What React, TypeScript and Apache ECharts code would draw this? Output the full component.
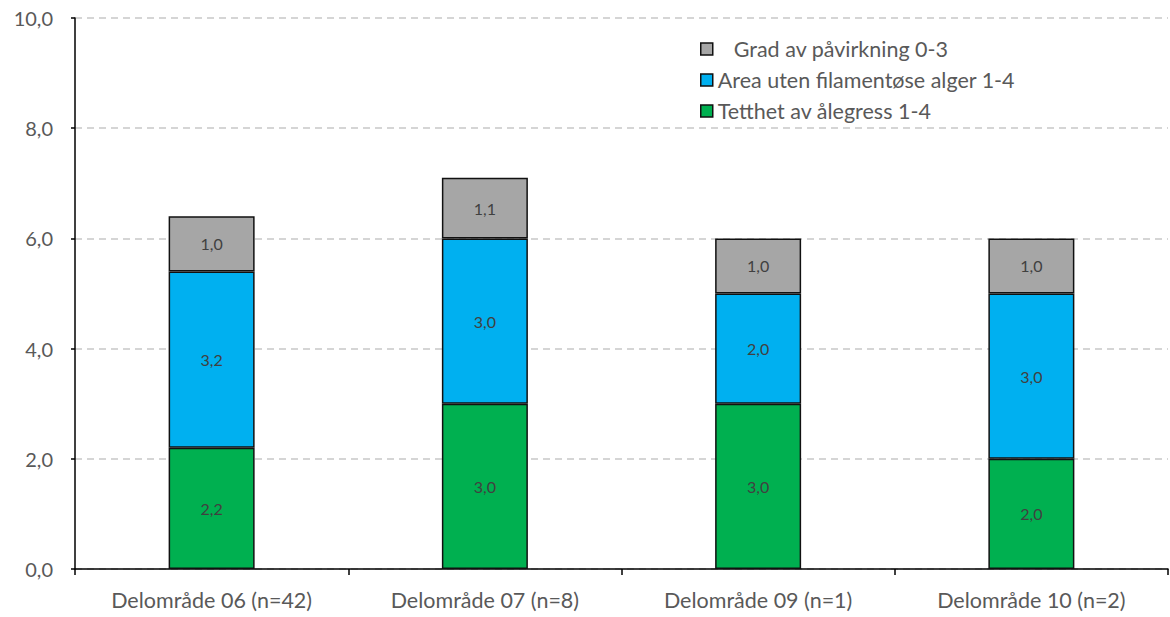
import React, { useEffect, useRef } from "react";
import * as echarts from "echarts";

const categories = [
  "Delområde 06 (n=42)",
  "Delområde 07 (n=8)",
  "Delområde 09 (n=1)",
  "Delområde 10 (n=2)",
];
const tetthet = [2.2, 3.0, 3.0, 2.0];
const area = [3.2, 3.0, 2.0, 3.0];
const grad = [1.0, 1.1, 1.0, 1.0];

const seriesNames = [
  "Tetthet av ålegress 1-4",
  "Area uten filamentøse alger 1-4",
  "Grad av påvirkning 0-3",
];
const seriesColors = ["#00B050", "#00B0F0", "#A6A6A6"];

const FONT = "Lato, 'Open Sans', sans-serif";

const fmt = (v: number) => v.toFixed(1).replace(".", ",");

export default function App() {
  const ref = useRef<HTMLDivElement>(null);

  useEffect(() => {
    if (!ref.current) return;
    const chart = echarts.init(ref.current, undefined, { renderer: "svg" });
    const data = [tetthet, area, grad];

    chart.setOption({
      animation: false,
      textStyle: { fontFamily: FONT },
      grid: { left: 75, right: 2, top: 18, bottom: 48, containLabel: false },
      legend: {
        orient: "vertical",
        left: 695,
        top: 33,
        itemWidth: 12,
        itemHeight: 12,
        itemGap: 9,
        icon: "rect",
        itemStyle: { borderColor: "#111", borderWidth: 1.5 },
        textStyle: { fontSize: 21.5, color: "#595959", fontFamily: FONT, lineHeight: 22 },
        data: [
          { name: seriesNames[2], textStyle: { padding: [0, 0, 0, 16] } },
          { name: seriesNames[1] },
          { name: seriesNames[0] },
        ],
      },
      xAxis: {
        type: "category",
        data: categories,
        axisLine: { lineStyle: { color: "#000", width: 1.5 } },
        axisTick: { show: true, length: 6, lineStyle: { color: "#000", width: 1.5 } },
        axisLabel: { fontSize: 21.5, color: "#595959", margin: 20, fontFamily: FONT },
      },
      yAxis: {
        type: "value",
        min: 0,
        max: 10,
        interval: 2,
        axisLine: { show: true, lineStyle: { color: "#000", width: 1.5 } },
        axisTick: { show: true, length: 4, lineStyle: { color: "#000", width: 1.5 } },
        axisLabel: {
          fontSize: 20,
          color: "#595959",
          margin: 22,
          fontFamily: FONT,
          formatter: (v: number) => fmt(v),
        },
        splitLine: {
          lineStyle: { color: "#C8C8C8", width: 1.5, type: [7, 5] },
        },
      },
      series: seriesNames.map((name, i) => ({
        name,
        type: "bar",
        stack: "total",
        barWidth: 86,
        data: data[i],
        itemStyle: { color: seriesColors[i], borderColor: "#111", borderWidth: 1.5 },
        label: {
          show: true,
          position: "inside",
          fontSize: 16,
          color: "#404040",
          fontFamily: FONT,
          formatter: (p: any) => fmt(p.value),
        },
      })),
    });

    return () => chart.dispose();
  }, []);

  return (
    <div
      ref={ref}
      style={{ position: "absolute", left: 0, top: 0, width: 1170, height: 617, background: "#fff" }}
    />
  );
}
